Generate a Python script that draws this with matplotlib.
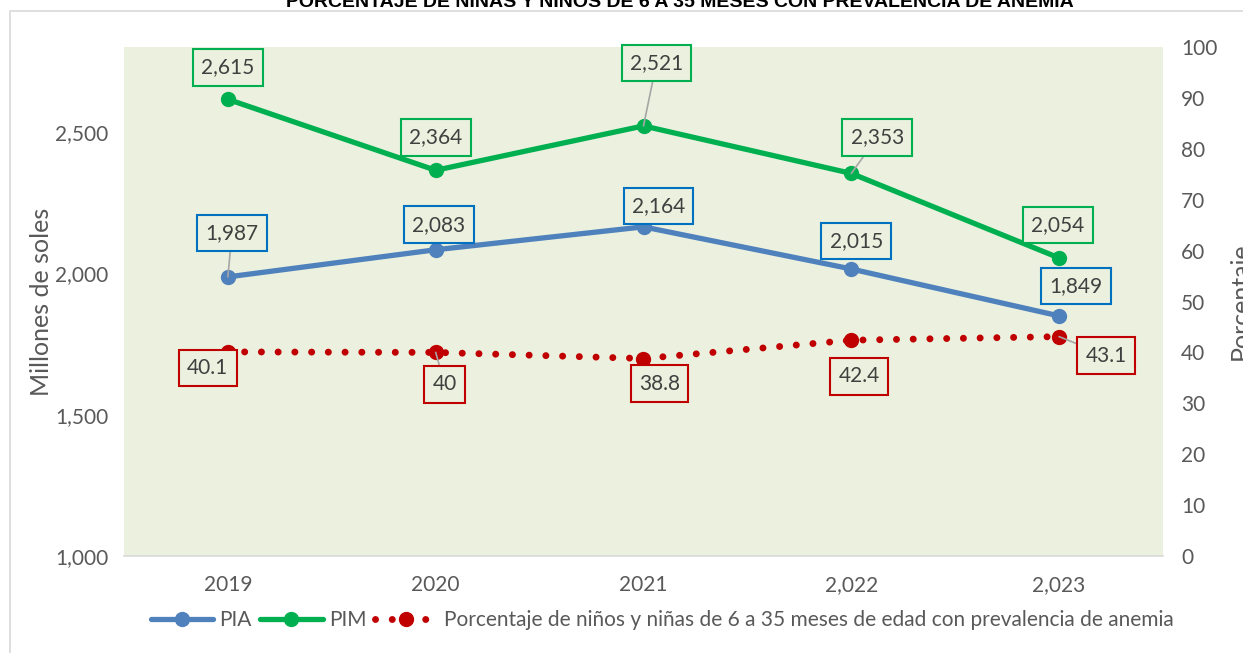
import numpy as np
import matplotlib
matplotlib.use("Agg")
import matplotlib.pyplot as plt
from matplotlib.patches import Rectangle

plt.rcParams['font.family'] = ['Lato', 'DejaVu Sans']

# data
years = ["2019", "2020", "2021", "2,022", "2,023"]
pia = [1987, 2083, 2164, 2015, 1849]
pim = [2615, 2364, 2521, 2353, 2054]
anemia = [40.1, 40.0, 38.8, 42.4, 43.1]
pia_labels = ["1,987", "2,083", "2,164", "2,015", "1,849"]
pim_labels = ["2,615", "2,364", "2,521", "2,353", "2,054"]
anemia_labels = ["40.1", "40", "38.8", "42.4", "43.1"]

# label placement (pixel offsets from the point), and whether a leader line shows
pia_off = [(4, 44), (3, 25), (15, 21), (5, 28), (17, 30)]
pim_off = [(0, 32), (0, 33), (13, 63), (26, 36), (-1, 33)]
an_off = [(-20, -16), (9, -32), (16, -25), (8, -36), (47, -19)]
pia_lead = [True, False, False, False, False]
pim_lead = [False, False, True, True, False]
an_lead = [False, True, False, False, True]

c_pia = '#4F81BD'
c_pim = '#00B050'
c_red = '#C00000'
bg = '#EBF1DE'
txt = '#404040'

fig = plt.figure(figsize=(12.43, 6.53), dpi=100)
# chart frame (partly cropped in the reference)
fig.patches.append(Rectangle((10 / 1243, -0.1), 1.2, 1.1 - 11 / 653,
                             transform=fig.transFigure, fill=False,
                             edgecolor='#D9D9D9', lw=1.2))

ax = fig.add_axes([124 / 1243, 97 / 653, 1039 / 1243, 509 / 653])
ax.set_facecolor(bg)
ax2 = ax.twinx()

x = np.arange(len(years))
ax.plot(x, pia, color=c_pia, lw=3.8, marker='o', ms=10, label='PIA',
        solid_capstyle='round', zorder=3)
ax.plot(x, pim, color=c_pim, lw=3.8, marker='o', ms=10, label='PIM',
        solid_capstyle='round', zorder=3)
ax2.plot(x, anemia, color=c_red, lw=5, linestyle=(0, (0.01, 2.4)),
         dash_capstyle='round', marker='o', ms=10,
         label='Porcentaje de niños y niñas de 6 a 35 meses de edad con prevalencia de anemia')

ax.set_xlim(-0.5, 4.5)
ax.set_ylim(1000, 2800)
ax.set_yticks([1000, 1500, 2000, 2500])
ax.set_yticklabels(['{:,}'.format(v) for v in [1000, 1500, 2000, 2500]])
ax2.set_ylim(0, 100)
ax2.set_yticks(np.arange(0, 101, 10))
ax.set_xticks(x)
ax.set_xticklabels(years)

for a in (ax, ax2):
    for s in a.spines.values():
        s.set_visible(False)
    a.tick_params(length=0, labelsize=15, labelcolor='#595959')
ax.spines['bottom'].set_visible(True)
ax.spines['bottom'].set_color('#D9D9D9')
ax.spines['bottom'].set_linewidth(1.2)
ax.tick_params(axis='x', pad=14)
ax.tick_params(axis='y', pad=11)
ax2.tick_params(axis='y', pad=13)

ax.set_ylabel('Millones de soles', fontsize=18, color='#595959', labelpad=2)
ax2.set_ylabel('Porcentaje', fontsize=18, color='#595959', labelpad=8)


def put_labels(axis, vals, labels, offs, leads, edge):
    for i, (v, lab, off, ld) in enumerate(zip(vals, labels, offs, leads)):
        arrow = dict(arrowstyle='-', color='#A6A6A6', lw=1.2,
                     shrinkA=0, shrinkB=0) if ld else None
        axis.annotate(lab, xy=(i, v), xytext=off, textcoords='offset pixels',
                      ha='center', va='center', fontsize=15, color=txt,
                      bbox=dict(boxstyle='square,pad=0.4', fc=bg, ec=edge, lw=1.5),
                      arrowprops=arrow, zorder=5)


put_labels(ax, pia, pia_labels, pia_off, pia_lead, '#0070C0')
put_labels(ax, pim, pim_labels, pim_off, pim_lead, c_pim)
put_labels(ax2, anemia, anemia_labels, an_off, an_lead, c_red)

h1, l1 = ax.get_legend_handles_labels()
h2, l2 = ax2.get_legend_handles_labels()
fig.legend(h1 + h2, l1 + l2, loc='center', bbox_to_anchor=(662 / 1243, 1 - 620 / 653),
           ncol=3, frameon=False, fontsize=15, labelcolor='#595959',
           handlelength=3.0, handletextpad=0.3, columnspacing=0.4)

fig.text(680 / 1243, 1 - 7 / 653,
         'PORCENTAJE DE NIÑAS Y NIÑOS DE 6 A 35 MESES CON PREVALENCIA DE ANEMIA',
         ha='center', va='baseline', fontsize=14, fontweight='bold',
         family=['Liberation Sans Narrow', 'Liberation Sans'], color='black')

fig.savefig('out.png', dpi=100)
